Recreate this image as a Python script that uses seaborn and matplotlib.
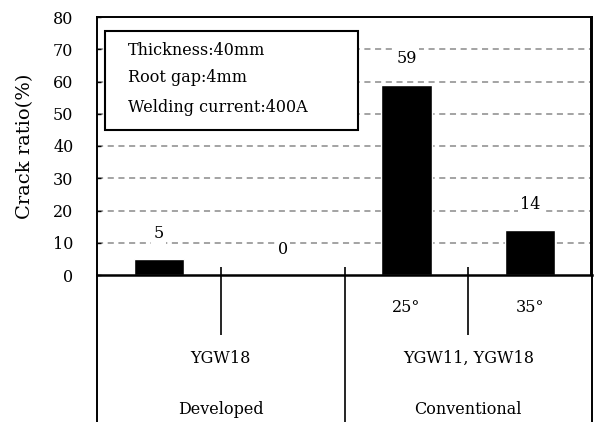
import matplotlib
matplotlib.use("Agg")
import matplotlib.pyplot as plt
import seaborn as sns
import pandas as pd
from matplotlib.patches import Rectangle

# --- data ---
bar_ids = ["dev_a", "dev_b", "conv_25", "conv_35"]
crack_ratio = [5, 0, 59, 14]
angle_labels = ["", "", "25°", "35°"]
material_labels = ["YGW18", "YGW11, YGW18"]
group_labels = ["Developed", "Conventional"]
conditions = ["Thickness:40mm", "Root gap:4mm", "Welding current:400A"]
y_ticks = [0, 10, 20, 30, 40, 50, 60, 70, 80]

df = pd.DataFrame({"bar": bar_ids, "ratio": crack_ratio})

sns.set_theme(style="white")
plt.rcParams["font.family"] = ["DejaVu Serif"]
plt.rcParams["text.color"] = "black"
plt.rcParams["axes.labelcolor"] = "black"
plt.rcParams["xtick.color"] = "black"
plt.rcParams["ytick.color"] = "black"

fs = 11.5

fig = plt.figure(figsize=(5.96, 4.22), dpi=100)
tab = fig.add_axes([97 / 596, 0, 495 / 596, 147 / 422])
ax = fig.add_axes([97 / 596, 147 / 422, 495 / 596, 258 / 422])
ax.set_zorder(2)
tab.patch.set_alpha(0)

# grid first so bars and box sit on top
for v in y_ticks[1:-1]:
    ax.axhline(v, color="#8a8a8a", lw=1.1, ls=(0, (4, 3)), zorder=0)

sns.barplot(data=df, x="bar", y="ratio", order=bar_ids, color="black",
            width=0.41, saturation=1, ax=ax, zorder=2)

for i, v in enumerate(crack_ratio):
    ax.text(i, v + 8, str(v), ha="center", va="center", fontsize=fs,
            zorder=4, bbox=dict(boxstyle="square,pad=0.15", fc="white", ec="none"))

ax.set_xlim(-0.5, 3.5)
ax.set_ylim(0, 80)
ax.set_yticks(y_ticks)
ax.set_yticklabels([str(t) for t in y_ticks], fontsize=fs)
ax.set_xticks([0.5, 1.5, 2.5])
ax.set_xticklabels([])
ax.tick_params(axis="y", direction="in", length=3, width=1, pad=17, left=True)
ax.tick_params(axis="x", direction="in", length=6, width=1.2, bottom=True)
ax.set_xlabel("")
ax.set_ylabel("Crack ratio(%)", fontsize=14)
ax.yaxis.set_label_coords(-0.128, 0.5)
for s in ax.spines.values():
    s.set_visible(True)
    s.set_color("black")
    s.set_linewidth(1.4)
    s.set_zorder(5)
ax.spines["bottom"].set_linewidth(1.8)
# right frame line (the spine sits on the last pixel column, draw it a hair inside)
ax.axvline(3.49, color="black", lw=1.4, zorder=5, clip_on=False)

# condition box
ax.add_patch(Rectangle((0.016, 0.562), 0.511, 0.384, transform=ax.transAxes,
                       fc="white", ec="black", lw=1.5, zorder=3))
for txt, yy in zip(conditions, [0.872, 0.764, 0.648]):
    ax.text(0.063, yy, txt, transform=ax.transAxes, ha="left", va="center",
            fontsize=fs, zorder=4)

# table of labels under the axis
tab.set_xlim(-0.5, 3.5)
tab.set_ylim(0, 1)
tab.set_xticks([])
tab.set_yticks([])
for side in ["top", "bottom"]:
    tab.spines[side].set_visible(False)
for side in ["left", "right"]:
    tab.spines[side].set_color("black")
    tab.spines[side].set_linewidth(1.4)
tab.vlines([0.5, 2.5], 0.592, 1, color="black", lw=1.2)
tab.vlines([1.5], 0, 1, color="black", lw=1.2)
for i, a in enumerate(angle_labels):
    if a:
        tab.text(i, 0.776, a, ha="center", va="center", fontsize=fs)
for x, m in zip([0.5, 2.5], material_labels):
    tab.text(x, 0.435, m, ha="center", va="center", fontsize=fs)
for x, g in zip([0.5, 2.5], group_labels):
    tab.text(x, 0.088, g, ha="center", va="center", fontsize=fs)

fig.savefig("out.png", dpi=100)
